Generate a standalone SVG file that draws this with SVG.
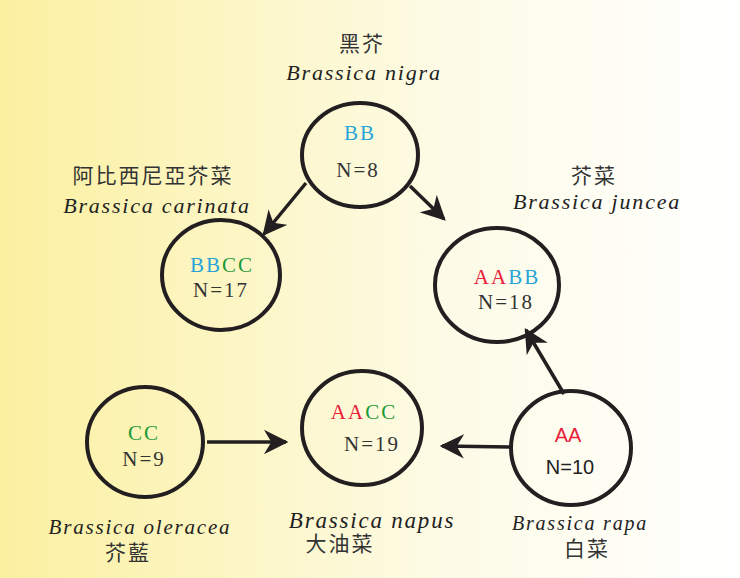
<svg xmlns="http://www.w3.org/2000/svg" width="740" height="578" viewBox="0 0 740 578">
<defs>
<linearGradient id="bg" x1="0" y1="0" x2="1" y2="0"><stop offset="0" stop-color="#fbf0a0"/><stop offset="0.6" stop-color="#fdfbe6"/><stop offset="1" stop-color="#ffffff"/></linearGradient>
<marker id="ah" viewBox="0 0 10 10" refX="9" refY="5" markerWidth="7" markerHeight="7" orient="auto" markerUnits="strokeWidth"><path d="M0,0 L10,5 L0,10 L3,5 z" fill="#231f20"/></marker>
</defs>
<style>
.n{fill:none;stroke:#231f20;stroke-width:4}
.c{stroke:#231f20;stroke-width:3.5;fill:none;marker-end:url(#ah)}
.t{font-family:"Liberation Serif","Noto Sans CJK TC",serif;font-size:21px;fill:#333;text-anchor:middle;letter-spacing:2px}
.i{font-family:"Liberation Serif",serif;font-style:italic;font-size:22px;fill:#222;text-anchor:middle;letter-spacing:1.8px}
.r{fill:#e8213b}.b{fill:#29a4d8}.g{fill:#1a9a3a}
</style>
<rect width="740" height="578" fill="url(#bg)"/>
<g id="connectors">
<line class="c" x1="306" y1="183" x2="264" y2="234"/>
<line class="c" x1="410" y1="186" x2="444" y2="219"/>
<line class="c" x1="207" y1="442" x2="286" y2="442"/>
<line class="c" x1="510" y1="447" x2="442" y2="446"/>
<line class="c" x1="564" y1="394" x2="526" y2="330"/>
</g>
<g id="nigra">
<ellipse class="n" cx="360" cy="155" rx="58" ry="52"/>
<text class="t" x="360" y="140"><tspan class="b">BB</tspan></text>
<text class="t" x="358" y="177">N=8</text>
<text class="t" x="362" y="51">黑芥</text>
<text class="i" x="364" y="80">Brassica nigra</text>
</g>
<g id="carinata">
<ellipse class="n" cx="221" cy="275" rx="59" ry="55"/>
<text class="t" x="222" y="272"><tspan class="b">BB</tspan><tspan class="g">CC</tspan></text>
<text class="t" x="221" y="297">N=17</text>
<text class="t" x="153" y="183">阿比西尼亞芥菜</text>
<text class="i" x="157" y="213">Brassica carinata</text>
</g>
<g id="juncea">
<ellipse class="n" cx="497" cy="285" rx="62" ry="57"/>
<text class="t" x="507" y="284"><tspan class="r">AA</tspan><tspan class="b">BB</tspan></text>
<text class="t" x="506" y="309">N=18</text>
<text class="t" x="594" y="183">芥菜</text>
<text class="i" x="597" y="209">Brassica juncea</text>
</g>
<g id="oleracea">
<ellipse class="n" cx="145" cy="442" rx="58" ry="55"/>
<text class="t" x="144" y="440"><tspan class="g">CC</tspan></text>
<text class="t" x="144" y="466">N=9</text>
<text class="i" x="140" y="534" style="font-size:21px">Brassica oleracea</text>
<text class="t" x="128" y="560">芥藍</text>
</g>
<g id="napus">
<ellipse class="n" cx="362" cy="428" rx="60" ry="57"/>
<text class="t" x="364" y="419"><tspan class="r">AA</tspan><tspan class="g">CC</tspan></text>
<text class="t" x="372" y="451">N=19</text>
<text class="i" x="372" y="528" style="font-size:23px">Brassica napus</text>
<text class="t" x="340" y="551">大油菜</text>
</g>
<g id="rapa">
<ellipse class="n" cx="571" cy="448" rx="60" ry="57"/>
<text x="568" y="442" font-family="Liberation Sans,sans-serif" font-size="20" class="r" text-anchor="middle">AA</text>
<text x="570" y="474" font-family="Liberation Sans,sans-serif" font-size="20" fill="#222" text-anchor="middle">N=10</text>
<text class="i" x="580" y="530" style="font-size:20px">Brassica rapa</text>
<text class="t" x="587" y="556">白菜</text>
</g>
</svg>
